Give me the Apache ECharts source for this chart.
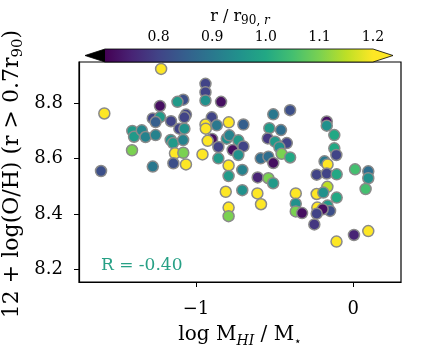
<!DOCTYPE html>
<html>
<head>
<meta charset="utf-8">
<script src="https://cdn.jsdelivr.net/npm/echarts@6/dist/echarts.min.js"></script>
<style>
  html, body { margin: 0; padding: 0; background: #fff; }
  #chart { width: 436px; height: 349px; }
</style>
</head>
<body>
<div id="chart"></div>
<script>
// log M_HI / M_star
var logMHI = [-1.222, -1.583, -1.604, -1.229, -1.081, -1.118, -1.275, -1.229, -1.257, -1.159,
  -1.064, -1.074, -1.106, -1.074, -1.405, -1.394, -1.345, -1.321, -1.257, -1.161,
  -1.146, -1.407, -1.134, -1.081, -1.275, -1.144, -1.064, -0.940, -0.940, -0.940,
  -0.841, -0.900, -0.792, -0.699, -0.940, -0.938, -0.868, -0.898, -0.926, -0.805,
  -0.788, -0.731, -0.858, -0.767, -0.699, -0.858, -0.959, -0.793, -0.793, -0.706,
  -0.811, -0.706, -0.793, -0.793, -0.509, -0.402, -0.534, -0.460, -0.544, -0.498,
  -0.423, -0.470, -0.456, -0.402, -0.589, -0.540, -0.509, -0.608, -0.540, -0.510,
  -0.610, -0.587, -0.169, -0.169, -0.121, -0.121, -0.108, -0.183, -0.164, -0.233,
  -0.169, -0.106, 0.011, 0.095, 0.095, 0.078, -0.366, -0.366, -0.366, -0.326,
  -0.165, -0.233, -0.191, -0.106, -0.164, -0.229, -0.148, -0.195, -0.233, -0.248,
  -0.107, 0.004, 0.095, -1.082, -0.731];

// 12 + log(O/H), outer region
var oh = [8.924, 8.763, 8.555, 8.790, 8.813, 8.805, 8.745, 8.750, 8.732, 8.735,
  8.759, 8.749, 8.708, 8.708, 8.700, 8.679, 8.702, 8.678, 8.685, 8.667,
  8.656, 8.630, 8.619, 8.621, 8.571, 8.583, 8.579, 8.870, 8.840, 8.810,
  8.805, 8.749, 8.731, 8.723, 8.723, 8.708, 8.720, 8.671, 8.664, 8.672,
  8.684, 8.666, 8.642, 8.631, 8.644, 8.601, 8.615, 8.575, 8.537, 8.559,
  8.480, 8.486, 8.423, 8.392, 8.760, 8.775, 8.710, 8.703, 8.673, 8.661,
  8.656, 8.641, 8.617, 8.604, 8.601, 8.607, 8.584, 8.532, 8.529, 8.511,
  8.474, 8.435, 8.734, 8.719, 8.685, 8.637, 8.613, 8.590, 8.579, 8.542,
  8.546, 8.543, 8.561, 8.554, 8.529, 8.490, 8.474, 8.437, 8.409, 8.403,
  8.498, 8.472, 8.477, 8.459, 8.430, 8.423, 8.411, 8.417, 8.401, 8.362,
  8.300, 8.324, 8.338, 8.667, 8.613];

// r / r90,r  (colour)
var rRatio = [1.2, 1.2, 0.82, 0.72, 0.82, 0.97, 0.8, 0.97, 0.85, 0.8,
  0.8, 0.8, 0.8, 0.95, 0.97, 0.97, 0.93, 0.92, 0.92, 0.95,
  0.97, 1.1, 1.2, 1.1, 0.9, 0.82, 1.2, 0.8, 0.8, 0.95,
  0.72, 0.8, 1.2, 0.85, 1.2, 1.2, 0.9, 0.72, 1.2, 0.95,
  0.92, 0.97, 0.8, 0.72, 0.8, 0.97, 1.2, 1.2, 0.97, 0.92,
  1.2, 0.95, 1.2, 1.1, 0.9, 0.82, 0.97, 0.88, 0.78, 0.97,
  0.8, 0.95, 1.1, 1.0, 0.88, 0.88, 0.72, 0.75, 1.1, 0.97,
  1.2, 1.2, 0.72, 0.95, 1.0, 1.0, 0.8, 0.9, 1.2, 0.8,
  0.8, 1.0, 1.05, 0.88, 0.95, 1.05, 1.2, 0.95, 1.1, 0.72,
  1.15, 1.2, 0.95, 1.0, 0.97, 1.2, 0.82, 0.72, 0.8, 0.78,
  1.2, 0.75, 1.2, 0.92, 0.95];

var xTicks = [-1, 0];
var yTicks = [8.2, 8.4, 8.6, 8.8];
var cbTicks = [0.8, 0.9, 1.0, 1.1, 1.2];
var cbRange = [0.7, 1.2];

var viridis = ['#440154', '#482475', '#414487', '#355f8d', '#2a788e', '#21918c',
  '#22a884', '#44bf70', '#7ad151', '#bddf26', '#fde725'];

var points = [];
for (var i = 0; i < logMHI.length; i++) {
  points.push([logMHI[i], oh[i], rRatio[i]]);
}

var serif = 'DejaVu Serif';
var myChart = echarts.init(document.getElementById('chart'));

var option = {
  animation: false,
  textStyle: { fontFamily: serif },
  grid: [
    { left: 79, right: 35, top: 62, bottom: 67, outerBoundsMode: 'none', containLabel: false,
      show: true, borderColor: '#000', borderWidth: 1.2 },
    { left: 105, right: 63, top: 49, height: 13, outerBoundsMode: 'none', containLabel: false }
  ],
  xAxis: [{
    type: 'value',
    min: -1.744, max: 0.303,
    name: '{n|log M}{s|HI}{n| / M}{t|⋆}',
    nameLocation: 'middle',
    nameGap: 40,
    nameTextStyle: {
      rich: {
        n: { fontFamily: serif, fontSize: 20, color: '#000', lineHeight: 26 },
        s: { fontFamily: serif, fontStyle: 'italic', fontSize: 14, color: '#000', lineHeight: 12, verticalAlign: 'bottom' },
        t: { fontFamily: 'DejaVu Sans', fontSize: 12, color: '#000', lineHeight: 12, verticalAlign: 'bottom' }
      }
    },
    axisLine: { show: true, onZero: false, lineStyle: { color: '#000', width: 1.2 } },
    axisTick: { show: true, length: 5, lineStyle: { color: '#000' }, customValues: xTicks },
    axisLabel: {
      color: '#000', fontSize: 18, fontFamily: serif, margin: 18,
      customValues: xTicks,
      formatter: function (v) { return v < 0 ? '\u2212' + Math.abs(v) : String(v); }
    },
    splitLine: { show: false }
  }, {
    type: 'value',
    gridIndex: 1,
    position: 'top',
    min: cbRange[0], max: cbRange[1],
    axisLine: { show: false },
    axisTick: { show: true, length: 4, lineStyle: { color: '#000' }, customValues: cbTicks },
    axisLabel: {
      color: '#000', fontSize: 14, fontFamily: serif, margin: 5,
      customValues: cbTicks,
      formatter: function (v) { return v.toFixed(1); }
    },
    splitLine: { show: false }
  }],
  yAxis: [{
    type: 'value',
    min: 8.154, max: 8.949,
    axisLine: { show: true, onZero: false, lineStyle: { color: '#000', width: 1.2 } },
    axisTick: { show: true, length: 5, lineStyle: { color: '#000' }, customValues: yTicks },
    axisLabel: {
      color: '#000', fontSize: 18, fontFamily: serif, margin: 16,
      customValues: yTicks,
      formatter: function (v) { return v.toFixed(1); }
    },
    splitLine: { show: false }
  }, {
    type: 'value',
    gridIndex: 1,
    min: 0, max: 1,
    show: false
  }],
  visualMap: {
    show: false,
    type: 'continuous',
    seriesIndex: 0,
    dimension: 2,
    min: cbRange[0], max: cbRange[1],
    inRange: { color: viridis }
  },
  graphic: [{
    // colour bar title
    type: 'text',
    x: 240,
    y: 17,
    style: {
      text: '{n|r / r}{s|90, }{i|r}',
      align: 'center',
      verticalAlign: 'middle',
      rich: {
        n: { fontFamily: serif, fontSize: 16, fill: '#000', lineHeight: 20 },
        s: { fontFamily: serif, fontSize: 12, fill: '#000', lineHeight: 10, verticalAlign: 'bottom' },
        i: { fontFamily: serif, fontStyle: 'italic', fontSize: 12, fill: '#000', lineHeight: 10, verticalAlign: 'bottom' }
      }
    }
  }, {
    // y axis title
    type: 'text',
    x: 12,
    y: 174,
    rotation: Math.PI / 2,
    style: {
      text: '{n|12 + log(O/H) (r > 0.7r}{s|90}{n|)}',
      align: 'center',
      verticalAlign: 'middle',
      rich: {
        n: { fontFamily: serif, fontSize: 22, fill: '#000', lineHeight: 28 },
        s: { fontFamily: serif, fontSize: 15, fill: '#000', lineHeight: 14, verticalAlign: 'bottom' }
      }
    }
  }, {
    type: 'text',
    left: 101,
    top: 257,
    style: { text: 'R = -0.40', font: '17px "DejaVu Serif"', fill: '#27a085' }
  }],
  series: [{
    type: 'scatter',
    xAxisIndex: 0,
    yAxisIndex: 0,
    symbol: 'circle',
    symbolSize: 11,
    itemStyle: { borderColor: '#8a8a8a', borderWidth: 1.5, opacity: 1 },
    data: points
  }, {
    // colour bar
    type: 'custom',
    xAxisIndex: 1,
    yAxisIndex: 1,
    silent: true,
    data: [[cbRange[0], cbRange[1]]],
    renderItem: function (params, api) {
      var p0 = api.coord([api.value(0), 0]);
      var p1 = api.coord([api.value(1), 1]);
      var x0 = p0[0], x1 = p1[0], yb = p0[1], yt = p1[1], ym = (yb + yt) / 2;
      var stops = viridis.map(function (c, k) { return { offset: k / (viridis.length - 1), color: c }; });
      return {
        type: 'group',
        children: [{
          type: 'rect',
          shape: { x: x0, y: yt, width: x1 - x0, height: yb - yt },
          style: { fill: new echarts.graphic.LinearGradient(0, 0, 1, 0, stops) }
        }, {
          type: 'polygon',
          shape: { points: [[x0, yt], [x0 - 20, ym], [x0, yb]] },
          style: { fill: '#000' }
        }, {
          type: 'polygon',
          shape: { points: [[x1, yt], [x1 + 20, ym], [x1, yb]] },
          style: { fill: '#fde725' }
        }, {
          type: 'polygon',
          shape: { points: [[x0, yt], [x1, yt], [x1 + 20, ym], [x1, yb], [x0, yb], [x0 - 20, ym]] },
          style: { fill: 'none', stroke: '#000', lineWidth: 0.8 }
        }]
      };
    }
  }]
};

myChart.setOption(option);
</script>
</body>
</html>
